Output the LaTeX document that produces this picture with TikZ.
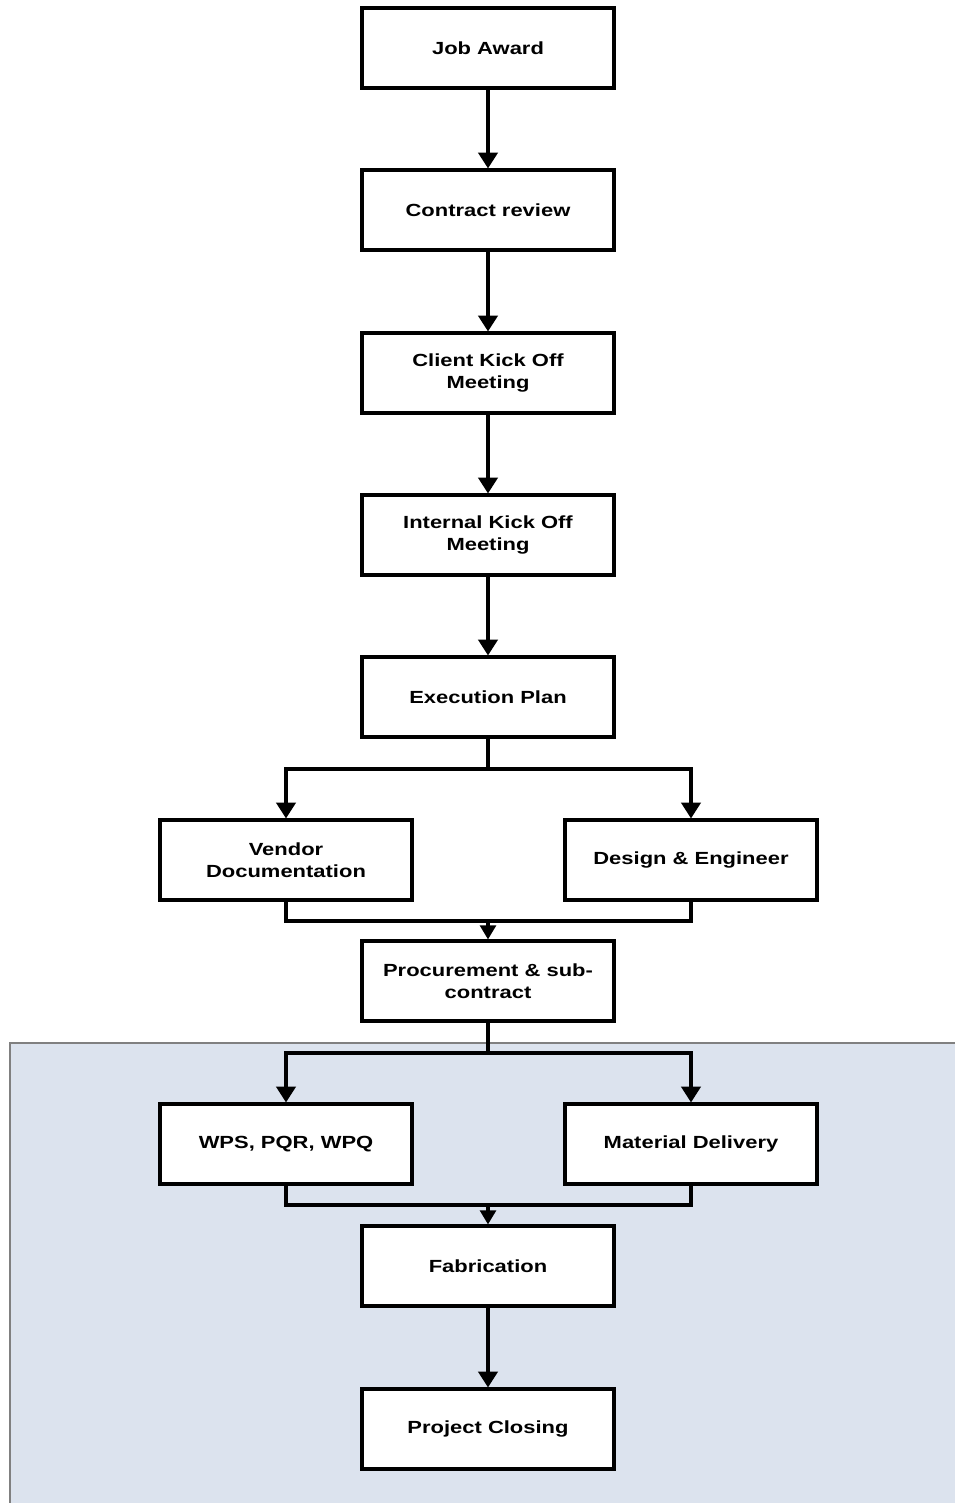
\documentclass[tikz,border=0pt]{standalone}
\usepackage{fontspec}
\setmainfont{Liberation Sans}[FakeStretch=1.25]
\usetikzlibrary{arrows.meta}
\definecolor{panelblue}{RGB}{220,227,238}

\begin{document}
\begin{tikzpicture}[x=0.02cm,y=-0.02cm,
  stepbox/.style={draw,line width=1.8pt,fill=white,minimum width=5.04cm,
    minimum height=1.6cm,align=center,inner sep=2pt,
    font=\bfseries\fontsize{10}{12.5}\selectfont},
  link/.style={line width=1.8pt},
  flow/.style={link,-{Triangle[width=11pt,length=9pt]}},
  shortflow/.style={link,-{Triangle[width=9pt,length=8pt]}}]
  \useasboundingbox (0,0) rectangle (955,1503);
  % shaded lower part
  \draw[gray,line width=0.6pt,fill=panelblue] (10,1043) rectangle (970,1520);

  \node[stepbox] (job) at (488,48) {Job Award};
  \node[stepbox] (contract) at (488,210) {Contract review};
  \node[stepbox] (client) at (488,373) {Client Kick Off\\Meeting};
  \node[stepbox] (internal) at (488,535) {Internal Kick Off\\Meeting};
  \node[stepbox] (exec) at (488,697) {Execution Plan};
  \node[stepbox] (vendor) at (286,860) {Vendor\\Documentation};
  \node[stepbox] (design) at (691,860) {Design \& Engineer};
  \node[stepbox] (proc) at (488,981) {Procurement \& sub-\\contract};
  \node[stepbox] (wps) at (286,1144) {WPS, PQR, WPQ};
  \node[stepbox] (material) at (691,1144) {Material Delivery};
  \node[stepbox] (fab) at (488,1266) {Fabrication};
  \node[stepbox] (closing) at (488,1429) {Project Closing};

  \coordinate (split1) at (488,769);
  \coordinate (merge1) at (488,921);
  \coordinate (split2) at (488,1053);
  \coordinate (merge2) at (488,1205);

  \draw[flow] (job) -- (contract);
  \draw[flow] (contract) -- (client);
  \draw[flow] (client) -- (internal);
  \draw[flow] (internal) -- (exec);

  \draw[link] (exec) -- (split1);
  \draw[flow] (split1) -| (vendor);
  \draw[flow] (split1) -| (design);
  \draw[link] (vendor) |- (merge1) -| (design);
  \draw[shortflow] (merge1) -- (proc);

  \draw[link] (proc) -- (split2);
  \draw[flow] (split2) -| (wps);
  \draw[flow] (split2) -| (material);
  \draw[link] (wps) |- (merge2) -| (material);
  \draw[shortflow] (merge2) -- (fab);

  \draw[flow] (fab) -- (closing);
\end{tikzpicture}
\end{document}
